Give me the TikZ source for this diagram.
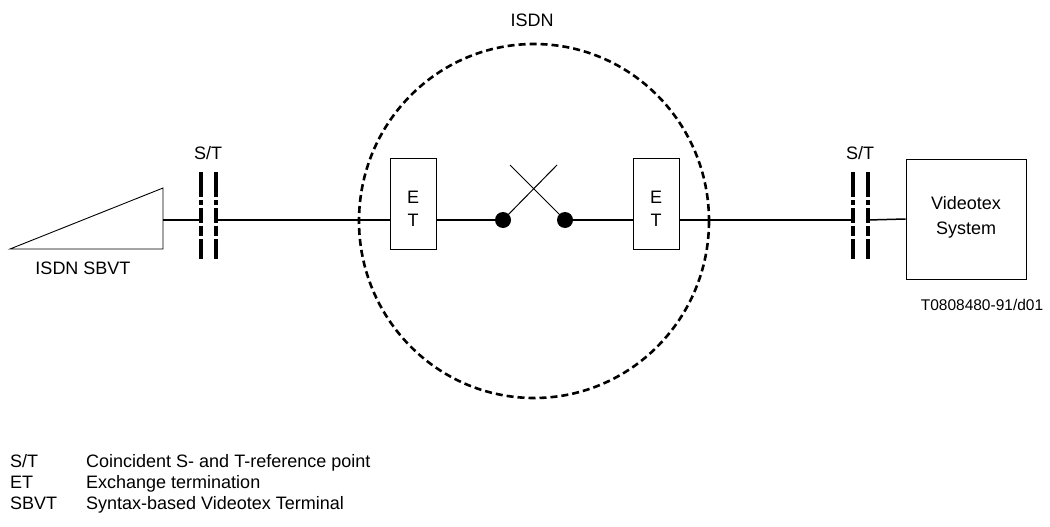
\documentclass[tikz,border=0pt]{standalone}
\usepackage{fontspec}
\setmainfont{Liberation Sans}
\begin{document}
\begin{tikzpicture}[x=1pt,y=-1pt,
  wire/.style={line width=1.5pt},
  box/.style={draw,line width=0.9pt,fill=white},
  bar/.style={line width=3.6pt,dash pattern=on 25pt off 3pt on 5pt off 3pt on 15pt off 3pt on 10pt off 3pt on 20pt},
  lbl/.style={font=\fontsize{18}{21}\selectfont,inner sep=0pt},
  dot/.style={circle,fill=black,inner sep=0pt,minimum size=16pt}]
\useasboundingbox (0,0) rectangle (1050,527);
% ISDN cloud
\draw[line width=2.6pt,dash pattern=on 7pt off 4pt] (534,221) ellipse [x radius=175, y radius=177];
\node[lbl] (isdn) at (532,20) {ISDN};
% terminal triangle
\draw[line width=0.9pt] (10,249) -- (163,188) -- (163,249) -- cycle;
\coordinate (tri) at (163,220);
\node[lbl] (sbvt) at (83,268) {ISDN SBVT};
% left S/T
\coordinate (l1) at (201,220);
\coordinate (l2) at (216,220);
\draw[bar] (201,172) -- (201,259);
\draw[bar] (216,172) -- (216,259);
\node[lbl] (stl) at (208,153) {S/T};
% ET boxes
\draw[box] (390,158) rectangle (436,249);
\node[lbl,align=center] (et1) at (413,208.5) {E\\[2pt]T};
\coordinate (et1w) at (390,220);
\coordinate (et1e) at (436,220);
\draw[box] (633,158) rectangle (679,249);
\node[lbl,align=center] (et2) at (656,208.5) {E\\[2pt]T};
\coordinate (et2w) at (633,220);
\coordinate (et2e) at (679,220);
% switch
\node[dot] (d1) at (503,220) {};
\node[dot] (d2) at (565,220) {};
\coordinate (x1) at (557,165);
\coordinate (x2) at (510,165);
\draw[line width=1pt] (d1.center) -- (x1);
\draw[line width=1pt] (d2.center) -- (x2);
% right S/T
\coordinate (r1) at (853,220);
\coordinate (r2) at (868,220);
\draw[bar] (853,172) -- (853,259);
\draw[bar] (868,172) -- (868,259);
\node[lbl] (str) at (860,153) {S/T};
% Videotex system
\node[box,minimum width=120pt,minimum height=120pt,inner sep=0pt] (vs) at (966,219) {};
\node[lbl,align=center] (vst) at (966,217.5) {Videotex\\[4pt]System};
% wires
\draw[wire] (tri) -- (l1);
\draw[wire] (l2) -- (et1w);
\draw[wire] (et1e) -- (d1);
\draw[wire] (d2) -- (et2w);
\draw[wire] (et2e) -- (r1);
\draw[wire] (r2) -- (vs.west);
\node[inner sep=0pt,font=\fontsize{15.5}{18}\selectfont] (code) at (982,305) {T0808480-91/d01};
% legend
\node[lbl,anchor=base west] (k1) at (10,467) {S/T};
\node[lbl,anchor=base west] (v1) at (86,467) {Coincident S- and T-reference point};
\node[lbl,anchor=base west] (k2) at (10,488) {ET};
\node[lbl,anchor=base west] (v2) at (86,488) {Exchange termination};
\node[lbl,anchor=base west] (k3) at (10,509) {SBVT};
\node[lbl,anchor=base west] (v3) at (86,509) {Syntax-based Videotex Terminal};
\end{tikzpicture}
\end{document}
